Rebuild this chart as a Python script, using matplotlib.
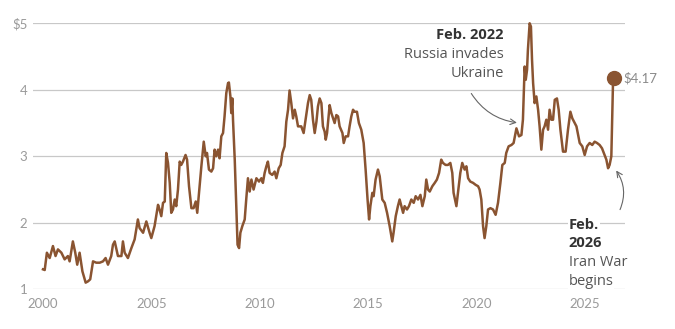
import matplotlib
matplotlib.use("Agg")
import matplotlib.pyplot as plt

# Average US gasoline price, dollars per gallon
years = [
    2000.0, 2000.08, 2000.18, 2000.31, 2000.46, 2000.58, 2000.69, 2000.85, 2001.0, 2001.15,
    2001.23, 2001.38, 2001.49, 2001.58, 2001.69, 2001.82, 2001.97, 2002.08, 2002.18, 2002.31,
    2002.46, 2002.62, 2002.77, 2002.89, 2003.0, 2003.15, 2003.23, 2003.31, 2003.46, 2003.62,
    2003.69, 2003.77, 2003.92, 2004.08, 2004.23, 2004.38, 2004.46, 2004.62, 2004.77, 2004.92,
    2005.0, 2005.15, 2005.31, 2005.38, 2005.46, 2005.54, 2005.62, 2005.69, 2005.77, 2005.85,
    2005.92, 2006.0, 2006.08, 2006.15, 2006.23, 2006.31, 2006.38, 2006.46, 2006.58, 2006.65,
    2006.74, 2006.85, 2006.95, 2007.05, 2007.12, 2007.23, 2007.31, 2007.42, 2007.51, 2007.57,
    2007.66, 2007.77, 2007.85, 2007.92, 2008.0, 2008.08, 2008.15, 2008.23, 2008.31, 2008.38,
    2008.46, 2008.54, 2008.58, 2008.65, 2008.69, 2008.74, 2008.77, 2008.85, 2008.92, 2008.98,
    2009.05, 2009.11, 2009.2, 2009.31, 2009.38, 2009.46, 2009.54, 2009.62, 2009.72, 2009.85,
    2009.97, 2010.08, 2010.15, 2010.23, 2010.31, 2010.38, 2010.46, 2010.58, 2010.69, 2010.77,
    2010.88, 2010.97, 2011.05, 2011.15, 2011.23, 2011.31, 2011.38, 2011.46, 2011.54, 2011.62,
    2011.69, 2011.77, 2011.92, 2012.03, 2012.12, 2012.23, 2012.31, 2012.38, 2012.46, 2012.54,
    2012.62, 2012.69, 2012.77, 2012.85, 2012.92, 2013.0, 2013.05, 2013.11, 2013.23, 2013.31,
    2013.46, 2013.54, 2013.62, 2013.69, 2013.82, 2013.88, 2013.97, 2014.08, 2014.15, 2014.23,
    2014.31, 2014.38, 2014.49, 2014.58, 2014.69, 2014.8, 2014.89, 2014.98, 2015.05, 2015.11,
    2015.2, 2015.26, 2015.35, 2015.46, 2015.54, 2015.66, 2015.77, 2015.88, 2016.0, 2016.12,
    2016.18, 2016.28, 2016.38, 2016.46, 2016.54, 2016.62, 2016.69, 2016.8, 2016.89, 2017.0,
    2017.11, 2017.2, 2017.31, 2017.42, 2017.51, 2017.62, 2017.69, 2017.77, 2017.85, 2017.97,
    2018.08, 2018.18, 2018.28, 2018.38, 2018.46, 2018.58, 2018.69, 2018.8, 2018.89, 2018.95,
    2019.08, 2019.15, 2019.26, 2019.35, 2019.46, 2019.54, 2019.62, 2019.72, 2019.85, 2019.97,
    2020.08, 2020.15, 2020.23, 2020.31, 2020.38, 2020.46, 2020.54, 2020.65, 2020.77, 2020.89,
    2021.0, 2021.11, 2021.2, 2021.31, 2021.38, 2021.49, 2021.62, 2021.72, 2021.85, 2021.97,
    2022.08, 2022.15, 2022.23, 2022.28, 2022.34, 2022.38, 2022.46, 2022.52, 2022.57, 2022.62,
    2022.69, 2022.77, 2022.85, 2022.92, 2023.0, 2023.08, 2023.15, 2023.23, 2023.31, 2023.38,
    2023.46, 2023.54, 2023.62, 2023.72, 2023.8, 2023.88, 2024.0, 2024.12, 2024.23, 2024.34,
    2024.43, 2024.54, 2024.62, 2024.77, 2024.89, 2025.0, 2025.11, 2025.23, 2025.35, 2025.46,
    2025.57, 2025.69, 2025.8, 2025.92, 2026.0, 2026.08, 2026.15, 2026.23, 2026.31, 2026.35,
]
prices = [
    1.30, 1.29, 1.55, 1.47, 1.65, 1.50, 1.60, 1.55, 1.45, 1.50,
    1.42, 1.72, 1.55, 1.37, 1.55, 1.27, 1.10, 1.12, 1.15, 1.42,
    1.40, 1.40, 1.42, 1.47, 1.37, 1.50, 1.67, 1.72, 1.50, 1.50,
    1.72, 1.55, 1.47, 1.62, 1.75, 2.05, 1.92, 1.85, 2.02, 1.85,
    1.77, 1.95, 2.27, 2.20, 2.10, 2.30, 2.32, 3.05, 2.90, 2.60,
    2.15, 2.20, 2.35, 2.25, 2.50, 2.92, 2.87, 2.92, 3.02, 2.95,
    2.55, 2.22, 2.22, 2.32, 2.15, 2.55, 2.85, 3.22, 3.00, 3.05,
    2.80, 2.77, 2.82, 3.10, 3.00, 3.10, 2.97, 3.30, 3.35, 3.60,
    3.95, 4.10, 4.11, 3.90, 3.65, 3.87, 3.55, 2.95, 2.25, 1.67,
    1.62, 1.85, 1.95, 2.05, 2.35, 2.67, 2.47, 2.65, 2.50, 2.67,
    2.62, 2.67, 2.60, 2.75, 2.85, 2.92, 2.75, 2.72, 2.77, 2.67,
    2.82, 2.87, 3.05, 3.15, 3.52, 3.70, 3.99, 3.80, 3.57, 3.70,
    3.60, 3.45, 3.45, 3.35, 3.55, 3.80, 3.92, 3.85, 3.55, 3.35,
    3.52, 3.75, 3.87, 3.80, 3.45, 3.37, 3.25, 3.35, 3.77, 3.65,
    3.50, 3.62, 3.60, 3.45, 3.35, 3.20, 3.30, 3.30, 3.45, 3.60,
    3.70, 3.67, 3.67, 3.50, 3.40, 3.20, 2.80, 2.35, 2.05, 2.25,
    2.45, 2.40, 2.65, 2.80, 2.70, 2.35, 2.30, 2.15, 1.95, 1.72,
    1.85, 2.10, 2.25, 2.35, 2.25, 2.15, 2.25, 2.20, 2.25, 2.35,
    2.30, 2.40, 2.35, 2.42, 2.25, 2.40, 2.65, 2.50, 2.47, 2.55,
    2.60, 2.65, 2.75, 2.95, 2.90, 2.87, 2.87, 2.90, 2.75, 2.45,
    2.25, 2.45, 2.75, 2.90, 2.80, 2.85, 2.67, 2.62, 2.60, 2.57,
    2.55, 2.50, 2.35, 1.95, 1.77, 1.95, 2.20, 2.22, 2.20, 2.12,
    2.30, 2.60, 2.87, 2.90, 3.05, 3.15, 3.17, 3.20, 3.42, 3.30,
    3.32, 3.55, 4.35, 4.15, 4.30, 4.60, 5.00, 4.95, 4.45, 4.10,
    3.80, 3.90, 3.70, 3.45, 3.10, 3.40, 3.45, 3.55, 3.40, 3.70,
    3.55, 3.55, 3.85, 3.87, 3.70, 3.40, 3.07, 3.07, 3.40, 3.67,
    3.57, 3.50, 3.45, 3.20, 3.15, 3.02, 3.15, 3.20, 3.17, 3.22,
    3.20, 3.17, 3.12, 3.02, 2.95, 2.82, 2.87, 3.00, 4.15, 4.17,
]
x_ticks = [2000, 2005, 2010, 2015, 2020, 2025]
y_ticks = [1, 2, 3, 4, 5]
y_labels = ["1", "2", "3", "4", "$5"]

line_color = "#8a5431"
grid_color = "#c8c8c8"
tick_color = "#9a9a9a"

fig = plt.figure(figsize=(6.75, 3.29), dpi=100)
ax = fig.add_axes([0.0489, 0.1207, 0.877, 0.8085])

ax.set_xlim(1999.54, 2026.86)
ax.set_ylim(1, 5)

for v in y_ticks:
    ax.axhline(v, color=grid_color, lw=0.9, zorder=0)

ax.plot(years, prices, color=line_color, lw=1.8, zorder=3, clip_on=False,
        solid_joinstyle="round")
ax.plot(years[-1], prices[-1], "o", color=line_color, ms=10, zorder=4, clip_on=False)
ax.text(years[-1] + 0.45, prices[-1], "$%.2f" % prices[-1], color="#8a8a8a",
        fontsize=9.5, family="Lato", va="center", ha="left")

for s in ax.spines.values():
    s.set_visible(False)
ax.tick_params(length=0)
ax.set_xticks(x_ticks)
ax.set_xticklabels([str(t) for t in x_ticks], color=tick_color, fontsize=9.5, family="Lato")
ax.set_yticks(y_ticks)
ax.set_yticklabels(y_labels, color=tick_color, fontsize=9.5, family="Lato")
ax.tick_params(axis="x", pad=6)
ax.tick_params(axis="y", pad=4)

bold = dict(family="Open Sans", fontweight="bold", color="#333333", fontsize=10.5)
light = dict(family="Open Sans", color="#555555", fontsize=10.5)
box = dict(facecolor="white", edgecolor="none", pad=0.5)

# Ukraine note
ax.text(2021.27, 4.82, "Feb. 2022", ha="right", va="center", bbox=box, zorder=5, **bold)
ax.text(2021.27, 4.53, "Russia invades", ha="right", va="center", bbox=box, zorder=5, **light)
ax.text(2021.27, 4.25, "Ukraine", ha="right", va="center", bbox=box, zorder=5, **light)
ax.annotate("", xy=(2022.0, 3.5), xytext=(2019.7, 3.98),
            arrowprops=dict(arrowstyle="->", color="#666666", lw=0.8,
                            connectionstyle="arc3,rad=0.25"), zorder=6)

# Iran note
ax.text(2024.27, 1.96, "Feb.", ha="left", va="center", bbox=box, zorder=5, **bold)
ax.text(2024.27, 1.69, "2026", ha="left", va="center", bbox=box, zorder=5, **bold)
ax.text(2024.27, 1.40, "Iran War", ha="left", va="center", bbox=box, zorder=5, **light)
ax.text(2024.27, 1.12, "begins", ha="left", va="center", bbox=box, zorder=5, **light)
ax.annotate("", xy=(2026.38, 2.82), xytext=(2026.58, 2.16),
            arrowprops=dict(arrowstyle="->", color="#666666", lw=0.8,
                            connectionstyle="arc3,rad=0.3"), zorder=6)

fig.savefig("out.png", dpi=100, facecolor="white")
